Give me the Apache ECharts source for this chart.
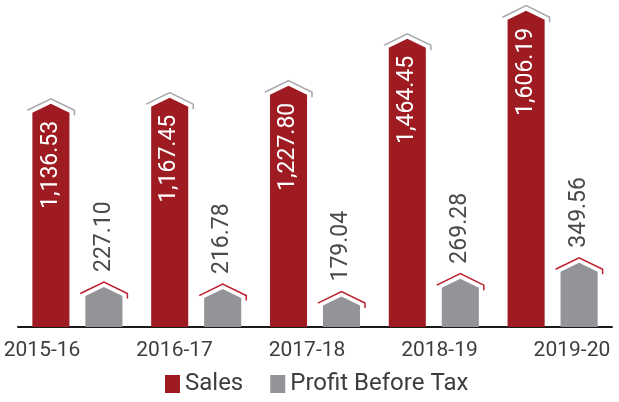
<!DOCTYPE html>
<html>
<head>
<meta charset="utf-8">
<script src="https://cdn.jsdelivr.net/npm/echarts@6/dist/echarts.min.js"></script>
<style>html,body{margin:0;padding:0;background:#fff}#c{width:619px;height:402px}</style>
</head>
<body>
<div id="c"></div>
<script>
var categories = ['2015-16', '2016-17', '2017-18', '2018-19', '2019-20'];
var salesValues = [1136.53, 1167.45, 1227.80, 1464.45, 1606.19];
var profitValues = [227.10, 216.78, 179.04, 269.28, 349.56];
var seriesNames = ['Sales', 'Profit Before Tax'];

var RED = '#9e1b22', GRAY = '#929497';
var FONT = 'Roboto';

function fmt(v) {
  return v.toLocaleString('en-US', {minimumFractionDigits: 2, maximumFractionDigits: 2});
}

function makeRender(side, fill, roofColor, lift, labelInside) {
  return function (params, api) {
    var idx = api.value(0), v = api.value(1);
    var top = api.coord([idx, v]);
    var base = api.coord([idx, 0]);
    var cw = api.size([1, 0])[0];
    var bw = cw * 0.312;
    var cx = top[0] + side * cw * 0.223;
    var l = cx - bw / 2, r = cx + bw / 2;
    var peak = top[1] + lift;
    var rise = bw * 0.245;
    var sh = peak + rise;
    var slope = rise / (bw / 2);
    var ext = 5, gap = 5;
    var rp = peak - gap;
    var re = rp + slope * (bw / 2 + ext);
    var children = [
      {type: 'polygon', shape: {points: [[l, base[1]], [l, sh], [cx, peak], [r, sh], [r, base[1]]]},
       style: {fill: fill}},
      {type: 'polyline', shape: {points: [[l - ext, re], [cx, rp], [r + ext, re], [r + ext, re + 5]]},
       style: {stroke: roofColor, lineWidth: 1.5, fill: null}}
    ];
    if (labelInside) {
      children.push({type: 'text', x: cx, y: sh + 8, rotation: Math.PI / 2,
        style: {text: fmt(v), fill: '#ffffff', font: '23px ' + FONT, align: 'right', verticalAlign: 'middle'}});
    } else {
      children.push({type: 'text', x: cx, y: rp - 10, rotation: Math.PI / 2,
        style: {text: fmt(v), fill: '#4a4a4a', font: '23px ' + FONT, align: 'left', verticalAlign: 'middle'}});
    }
    return {type: 'group', children: children};
  };
}

// category labels are spread slightly wider than the bar groups in the reference
function renderCategoryLabel(params, api) {
  var idx = api.value(0);
  var p = api.coord([idx, 0]);
  var mid = params.coordSys.x + params.coordSys.width / 2;
  var x = mid - 8 + (p[0] - mid) * 1.115;
  return {type: 'text', x: x, y: p[1] + 24,
    style: {text: categories[idx], fill: '#3d3d3d', font: '21px ' + FONT, align: 'center', verticalAlign: 'middle'}};
}

var chart = echarts.init(document.getElementById('c'));
chart.setOption({
  animation: false,
  textStyle: {fontFamily: FONT},
  grid: {left: 18, right: 7, top: 0, bottom: 75},
  legend: {
    bottom: 1, left: 160, itemWidth: 15, itemHeight: 18, itemGap: 27,
    textStyle: {fontSize: 24, color: '#3d3d3d', fontFamily: FONT},
    data: [{name: seriesNames[0], icon: 'rect'}, {name: seriesNames[1], icon: 'rect'}]
  },
  xAxis: {type: 'category', data: categories,
     axisLine: {lineStyle: {color: '#1a1a1a', width: 2}}, axisTick: {show: false}, axisLabel: {show: false}},
  yAxis: {type: 'value', min: 0, max: 1650, show: false},
  series: [
    {name: seriesNames[0], type: 'custom', itemStyle: {color: RED},
     renderItem: makeRender(-1, RED, '#a7a9ac', 2, true),
     data: salesValues.map(function (v, i) { return [i, v]; })},
    {name: seriesNames[1], type: 'custom', itemStyle: {color: GRAY},
     renderItem: makeRender(1, GRAY, '#be1e2d', 5, false),
     data: profitValues.map(function (v, i) { return [i, v]; })},
    {type: 'custom', silent: true, clip: false,
     renderItem: renderCategoryLabel,
     data: categories.map(function (c, i) { return [i]; })}
  ]
});
</script>
</body>
</html>
